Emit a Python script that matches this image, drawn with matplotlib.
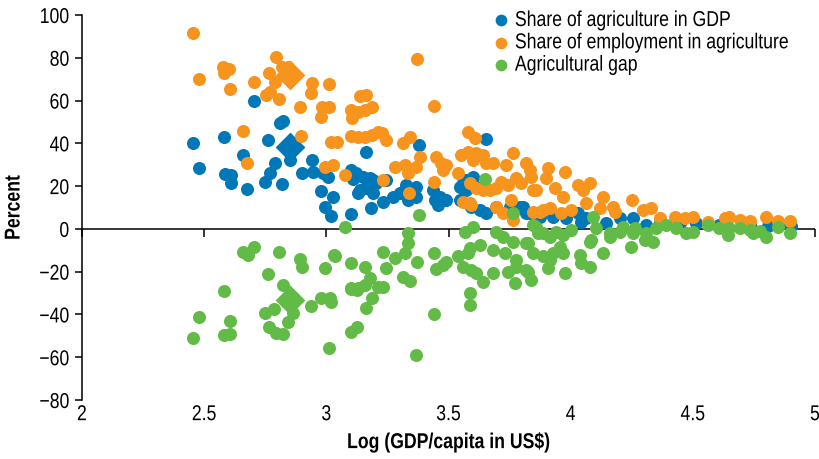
import matplotlib
matplotlib.use("Agg")
import matplotlib.pyplot as plt
from matplotlib.lines import TICKDOWN
from matplotlib.patheffects import AbstractPathEffect
from matplotlib.transforms import Affine2D

# ---- data -------------------------------------------------------------
gdp_x = [2.455, 2.480, 2.582, 2.585, 2.608, 2.608, 2.660, 2.674, 2.703, 2.762,
         2.810, 2.823, 2.789, 2.769, 2.748, 2.819, 2.851, 2.899, 2.943, 2.946,
         2.987, 3.007, 2.980, 3.028, 2.994, 3.018, 3.103, 3.110, 3.130, 3.103,
         3.655, 3.379, 3.162, 3.123, 3.151, 3.178, 3.191, 3.205, 3.246, 3.137,
         3.164, 3.191, 3.232, 3.273, 3.301, 3.328, 3.369, 3.369, 3.335, 3.182,
         3.437, 3.444, 3.457, 3.491, 3.464, 3.560, 3.573, 3.600, 3.614, 3.546,
         3.594, 3.628, 3.655, 3.696, 3.750, 3.791, 3.818, 3.484, 3.546, 3.573,
         3.805, 3.832, 3.873, 3.928, 3.982, 4.030, 4.044, 4.064, 4.146, 4.200,
         4.255, 4.309, 4.364, 4.446, 4.514, 4.609, 4.732, 4.807, 4.848, 4.903]
gdp_y = [40.0, 28.4, 43.1, 25.7, 25.2, 21.6, 34.6, 18.5, 59.8, 41.6,
         49.7, 50.6, 30.7, 26.0, 22.1, 20.9, 32.2, 26.0, 32.2, 26.8,
         26.0, 24.4, 17.9, 15.1, 10.4, 6.1, 27.6, 23.2, 16.7, 7.0,
         41.9, 39.3, 36.1, 26.0, 24.4, 23.7, 22.9, 21.4, 22.9, 18.2,
         19.0, 16.7, 12.8, 15.1, 16.7, 20.6, 19.8, 15.1, 13.6, 9.7,
         18.2, 13.6, 11.2, 13.6, 15.1, 21.4, 18.2, 24.4, 19.8, 13.6,
         10.4, 8.9, 7.3, 10.4, 10.4, 10.4, 7.3, 13.6, 19.8, 22.9,
         10.4, 7.3, 5.7, 5.7, 5.0, 7.3, 3.4, 5.0, 2.7, 5.0,
         5.0, 1.9, 3.4, 2.7, 2.7, 1.9, 1.9, 1.4, 1.9, 1.4]

emp_x = [2.455, 2.478, 2.578, 2.601, 2.582, 2.607, 2.703, 2.796, 2.817, 2.765,
         2.789, 2.844, 2.864, 2.755, 2.769, 2.806, 2.942, 2.939, 3.011, 2.892,
         2.983, 3.011, 2.978, 3.103, 3.107, 3.137, 2.657, 2.897, 3.018, 3.042,
         3.103, 2.675, 2.994, 3.028, 3.076, 3.371, 3.164, 3.130, 3.157, 3.185,
         3.441, 3.130, 3.157, 3.185, 3.212, 3.226, 3.246, 3.342, 3.314, 3.280,
         3.321, 3.335, 3.382, 3.369, 3.232, 3.337, 3.450, 3.471, 3.491, 3.441,
         3.580, 3.607, 3.539, 3.553, 3.580, 3.600, 3.614, 3.641, 3.655, 3.682,
         3.587, 3.614, 3.641, 3.669, 3.696, 3.716, 3.743, 3.560, 3.587, 3.764,
         3.737, 3.778, 3.798, 3.818, 3.832, 3.839, 3.846, 3.696, 3.723, 3.764,
         3.846, 3.755, 3.478, 3.594, 3.873, 3.914, 3.962, 4.003, 4.050, 3.907,
         3.901, 3.975, 3.935, 3.969, 3.859, 4.030, 4.078, 4.132, 4.173, 4.180,
         4.064, 4.119, 4.251, 4.296, 4.330, 4.364, 4.425, 4.466, 4.500, 4.562,
         4.630, 4.650, 4.691, 4.732, 4.800, 4.848, 4.896, 3.887]
emp_y = [91.4, 70.1, 75.8, 74.6, 72.7, 65.4, 68.5, 80.5, 75.8, 72.7,
         68.8, 75.8, 72.7, 62.6, 64.2, 60.7, 68.1, 63.4, 67.6, 57.2,
         56.9, 56.9, 52.2, 55.6, 52.0, 62.1, 45.8, 43.6, 40.8, 40.8,
         43.5, 30.7, 29.1, 29.9, 25.2, 79.3, 62.6, 54.8, 55.6, 56.9,
         57.6, 43.1, 43.1, 43.9, 45.5, 44.7, 41.6, 43.1, 40.0, 29.1,
         29.9, 26.0, 33.8, 29.1, 22.9, 16.7, 33.8, 30.7, 29.9, 22.1,
         45.5, 42.4, 26.0, 34.6, 36.1, 32.2, 35.4, 34.6, 30.7, 30.7,
         21.4, 19.0, 18.2, 18.2, 19.0, 22.1, 20.6, 12.8, 12.0, 35.4,
         29.9, 23.7, 21.4, 30.7, 27.6, 24.4, 18.2, 10.4, 7.3, 4.2,
         8.1, 13.6, 27.6, 11.2, 8.1, 9.7, 7.3, 8.9, 18.2, 28.4,
         23.7, 26.8, 19.0, 15.1, 18.2, 20.6, 21.4, 15.1, 10.4, 8.1,
         12.0, 9.7, 13.6, 8.9, 9.7, 5.0, 5.7, 5.0, 5.7, 3.4,
         5.0, 5.7, 4.2, 3.9, 5.5, 3.9, 3.9, 8.9]

gap_x = [3.076, 2.660, 2.678, 2.705, 2.806, 2.892, 2.899, 2.994, 3.035, 3.030,
         3.103, 2.762, 2.823, 2.582, 2.748, 2.785, 2.864, 2.843, 2.939, 2.980,
         3.014, 3.021, 3.100, 3.124, 3.100, 3.124, 2.479, 2.607, 2.582, 2.605,
         2.455, 2.765, 2.796, 2.821, 3.011, 3.335, 3.335, 3.321, 3.232, 3.280,
         3.246, 3.371, 3.157, 3.178, 3.130, 3.157, 3.212, 3.232, 3.185, 3.164,
         3.314, 3.342, 3.441, 3.450, 3.478, 3.491, 3.441, 3.369, 3.539, 3.560,
         3.580, 3.587, 3.628, 3.594, 3.614, 3.641, 3.682, 3.587, 3.587, 3.567,
         3.600, 3.696, 3.723, 3.764, 3.682, 3.730, 3.778, 3.825, 3.846, 3.778,
         3.825, 3.839, 3.744, 3.771, 3.859, 3.651, 3.379, 3.764, 4.091, 3.846,
         3.887, 3.914, 3.969, 4.003, 4.105, 4.160, 4.214, 4.262, 4.309, 4.350,
         4.391, 4.432, 4.473, 4.500, 4.562, 4.609, 4.650, 4.691, 4.732, 4.773,
         4.848, 4.896, 3.818, 3.866, 3.941, 3.887, 3.928, 3.955, 3.969, 3.914,
         3.818, 3.907, 3.975, 4.037, 4.044, 4.078, 4.132, 4.085, 4.160, 4.200,
         4.255, 4.248, 4.303, 4.337, 4.643, 4.745, 4.800, 4.078, 3.103]
gap_y = [1.1, -10.9, -12.1, -8.3, -10.9, -14.2, -17.6, -18.4, -12.9, -12.0,
         -16.0, -21.0, -26.2, -29.0, -39.1, -37.5, -39.4, -43.3, -36.0, -32.4,
         -32.4, -34.0, -28.2, -28.5, -48.0, -45.7, -41.4, -43.0, -49.5, -49.1,
         -51.1, -45.9, -48.7, -49.2, -55.5, -2.0, -6.7, -11.4, -10.6, -13.7,
         -18.4, -15.7, -17.6, -23.0, -27.7, -26.2, -27.0, -27.4, -32.4, -37.1,
         -22.3, -24.3, -11.4, -18.8, -16.8, -15.3, -39.7, -58.9, -12.9, -17.6,
         -11.4, -9.0, -7.5, -19.2, -20.7, -24.6, -20.7, -30.0, -35.5, -1.3,
         1.1, -1.3, -3.6, -5.9, -9.8, -11.4, -14.5, -6.7, -11.4, -17.6,
         -20.0, -23.8, -20.0, -25.4, 1.1, 23.2, 6.5, 7.3, 5.7, 1.9,
         -2.0, -3.6, -2.8, -0.5, 0.3, -2.0, 1.1, 0.3, -2.0, 0.3,
         1.9, 0.3, -2.0, -1.3, 1.9, 0.3, 0.3, 0.3, -0.5, -0.8,
         1.1, -2.0, -6.7, -2.0, -1.3, -12.9, -11.4, -8.3, -11.4, -14.5,
         -19.2, -18.4, -20.7, -12.2, -16.0, -17.6, -11.4, -5.1, -3.6, -1.3,
         -2.0, -8.3, -5.1, -5.9, -2.8, -2.0, -3.6, -5.9, -27.7]

# group averages (large diamonds)
avg_x = 2.851
gdp_avg = 38.5
emp_avg = 72.0
gap_avg = -33.2

series_labels = ["Share of agriculture in GDP",
                 "Share of employment in agriculture",
                 "Agricultural gap"]
x_ticks = [2, 2.5, 3, 3.5, 4, 4.5, 5]
x_tick_labels = ["2", "2.5", "3", "3.5", "4", "4.5", "5"]
y_ticks = [-80, -60, -40, -20, 0, 20, 40, 60, 80, 100]


# ---- narrow lettering: squeeze glyph outlines horizontally -------------
class Narrow(AbstractPathEffect):
    """Draw text outlines compressed along the baseline.

    anchor: 0 keeps the left end fixed, 0.5 the centre, 1 the right end.
    """

    def __init__(self, sx=0.82, anchor=0.0):
        super().__init__()
        self.sx = sx
        self.anchor = anchor

    def draw_path(self, renderer, gc, tpath, affine, rgbFace=None):
        width = tpath.get_extents().x1 if len(tpath.vertices) else 0.0
        shift = self.anchor * (1.0 - self.sx) * width
        squeeze = Affine2D().scale(self.sx, 1.0).translate(shift, 0.0)
        renderer.draw_path(gc, tpath, squeeze + affine, rgbFace)


plt.rcParams["font.family"] = ["Liberation Sans", "DejaVu Sans"]
plt.rcParams["axes.unicode_minus"] = True

BLUE = "#0077B6"
ORANGE = "#F7941E"
GREEN = "#62BB46"
FS = 15.5
SX = 0.82
DOT = 88
DIAMOND = 230

fig = plt.figure(figsize=(8.19, 4.59), dpi=100)
ax = fig.add_axes([82 / 819, 1 - 400 / 459, (815 - 82) / 819, (400 - 15) / 459])

ax.scatter(gdp_x, gdp_y, s=DOT, color=BLUE, linewidths=0, label=series_labels[0], zorder=3)
ax.scatter(emp_x, emp_y, s=DOT, color=ORANGE, linewidths=0, label=series_labels[1], zorder=4)
ax.scatter(gap_x, gap_y, s=DOT, color=GREEN, linewidths=0, label=series_labels[2], zorder=5)
ax.scatter([avg_x], [gdp_avg], s=DIAMOND, marker="D", color=BLUE, linewidths=0, zorder=3)
ax.scatter([avg_x], [emp_avg], s=DIAMOND, marker="D", color=ORANGE, linewidths=0, zorder=4)
ax.scatter([avg_x], [gap_avg], s=DIAMOND, marker="D", color=GREEN, linewidths=0, zorder=5)

ax.set_xlim(2, 5)
ax.set_ylim(-80, 100)

# zero line with downward tick marks
ax.axhline(0, color="black", lw=1.1, zorder=2)
ax.plot(x_ticks, [0] * len(x_ticks), ls="none", marker=TICKDOWN, ms=6,
        mew=1.1, color="black", zorder=2, clip_on=False)

for side in ("top", "right", "bottom"):
    ax.spines[side].set_visible(False)
ax.spines["left"].set_linewidth(1.1)

ax.set_xticks(x_ticks)
ax.set_xticklabels(x_tick_labels)
ax.set_yticks(y_ticks)
ax.tick_params(axis="x", length=0, pad=3, labelsize=FS)
ax.tick_params(axis="y", direction="out", length=5, width=1.1, pad=4, labelsize=FS)

xl = ax.set_xlabel("Log (GDP/capita in US\\$)", fontsize=FS, fontweight="bold", labelpad=5)
yl = ax.set_ylabel("Percent", fontsize=FS, fontweight="bold", labelpad=6)
xl.set_path_effects([Narrow(SX, 0.5)])
yl.set_path_effects([Narrow(SX, 0.5)])

for lab in ax.get_xticklabels():
    lab.set_path_effects([Narrow(SX, 0.5)])
for lab in ax.get_yticklabels():
    lab.set_path_effects([Narrow(SX, 1.0)])

leg = ax.legend(loc="upper left", bbox_to_anchor=(488 / 819, 1 - 10 / 459),
                bbox_transform=fig.transFigure, frameon=False, fontsize=FS,
                handletextpad=0.05, labelspacing=0.06, borderpad=0, borderaxespad=0,
                markerscale=0.9, handlelength=1.2, scatterpoints=1)
for t in leg.get_texts():
    t.set_path_effects([Narrow(SX, 0.0)])

fig.savefig("out.png", dpi=100)
